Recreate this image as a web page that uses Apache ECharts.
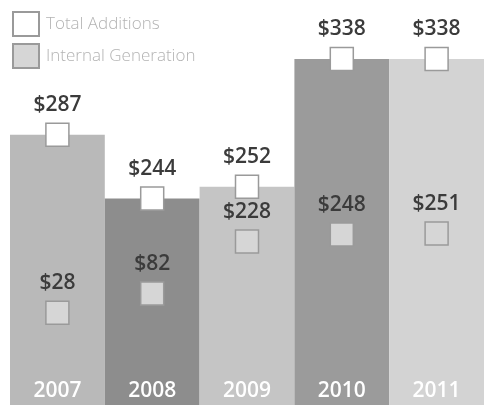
<!DOCTYPE html>
<html>
<head>
<meta charset="utf-8">
<style>html,body{margin:0;padding:0;background:#fff;}#c{width:490px;height:408px;}</style>
<script src="https://cdn.jsdelivr.net/npm/echarts@6/dist/echarts.min.js"></script>
</head>
<body>
<div id="c"></div>
<script>
const years = ['2007', '2008', '2009', '2010', '2011'];
const totalAdditions = [287, 244, 252, 338, 338];
const internalGeneration = [28, 82, 228, 248, 251];
const barColors = ['#b9b9b9', '#8d8d8d', '#c5c5c5', '#9b9b9b', '#d3d3d3'];

const chart = echarts.init(document.getElementById('c'));
const fam = '"Open Sans", "DejaVu Sans", sans-serif';
const valueLabel = {
  show: true, position: 'top', distance: 7,
  formatter: p => '$' + p.value,
  color: '#3b3b3b', fontSize: 21, fontWeight: 600, fontFamily: fam
};
chart.setOption({
  animation: false,
  backgroundColor: '#fff',
  grid: { left: 10, right: 6, top: 59, bottom: 3 },
  legend: {
    orient: 'vertical', left: 7, top: 6,
    itemWidth: 26, itemHeight: 24, itemGap: 6,
    data: ['Total Additions', 'Internal Generation'],
    textStyle: { color: '#b3b3b3', fontSize: 17, fontWeight: 300, fontFamily: fam, padding: [0, 0, 0, 2] }
  },
  xAxis: {
    type: 'category', data: years, z: 10,
    axisLine: { show: false }, axisTick: { show: false },
    axisLabel: { inside: true, margin: 3, color: '#fff', fontSize: 21, fontWeight: 600, fontFamily: fam }
  },
  yAxis: [
    { type: 'value', min: 105, max: 338, show: false, splitLine: { show: false } },
    { type: 'value', min: -231, max: 741, show: false, splitLine: { show: false } }
  ],
  series: [
    {
      name: 'bars', type: 'bar', yAxisIndex: 0, barCategoryGap: '0%', silent: true,
      data: totalAdditions.map((v, i) => ({ value: v, itemStyle: { color: barColors[i] } })),
      z: 1
    },
    {
      name: 'Total Additions', type: 'scatter', yAxisIndex: 0, symbol: 'rect', symbolSize: 23,
      itemStyle: { color: '#ffffff', borderColor: '#9a9a9a', borderWidth: 1.5, opacity: 1 },
      label: valueLabel, data: totalAdditions, z: 5
    },
    {
      name: 'Internal Generation', type: 'scatter', yAxisIndex: 1, symbol: 'rect', symbolSize: 23,
      itemStyle: { color: '#d6d6d6', borderColor: '#9a9a9a', borderWidth: 1.5, opacity: 1 },
      label: valueLabel, data: internalGeneration, z: 5
    }
  ]
});
</script>
</body>
</html>
